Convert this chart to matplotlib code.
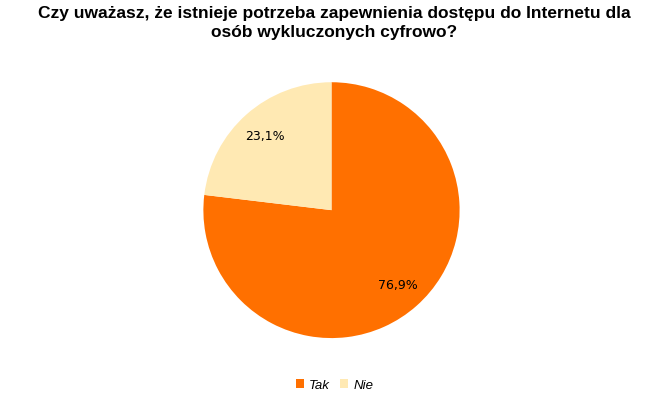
import numpy as np
import matplotlib.pyplot as plt

labels = ["Tak", "Nie"]
values = [76.9, 23.1]
colors = ["#FF7000", "#FFE9B3"]

plt.rcParams["font.family"] = ["Liberation Sans", "DejaVu Sans"]

fig = plt.figure(figsize=(6.69, 4.10), dpi=100)
fig.text(0.5, 0.985, "Czy uważasz, że istnieje potrzeba zapewnienia dostępu do Internetu dla\nosób wykluczonych cyfrowo?",
         ha="center", va="top", fontsize=12.5, fontweight="bold", linespacing=1.3)

ax = fig.add_axes([0.304, 0.173, 0.383, 0.624])
wedges, texts = ax.pie(values, colors=colors, startangle=90, counterclock=False,
                       wedgeprops={"linewidth": 0})
for w, v in zip(wedges, values):
    ang = np.deg2rad((w.theta1 + w.theta2) / 2)
    ax.text(0.78 * np.cos(ang), 0.78 * np.sin(ang), f"{v:.1f}%".replace(".", ","),
            ha="center", va="center", fontsize=9, family=["DejaVu Sans"])
ax.set_aspect("auto")
ax.set_xlim(-1, 1)
ax.set_ylim(-1, 1)

leg = fig.legend(wedges, labels, loc="center", bbox_to_anchor=(0.5, 0.058), ncol=2,
                 frameon=False, handlelength=0.6, handleheight=0.6, handletextpad=0.4,
                 columnspacing=0.8, prop={"style": "italic", "size": 9.5})
fig.savefig("out.png", dpi=100)
